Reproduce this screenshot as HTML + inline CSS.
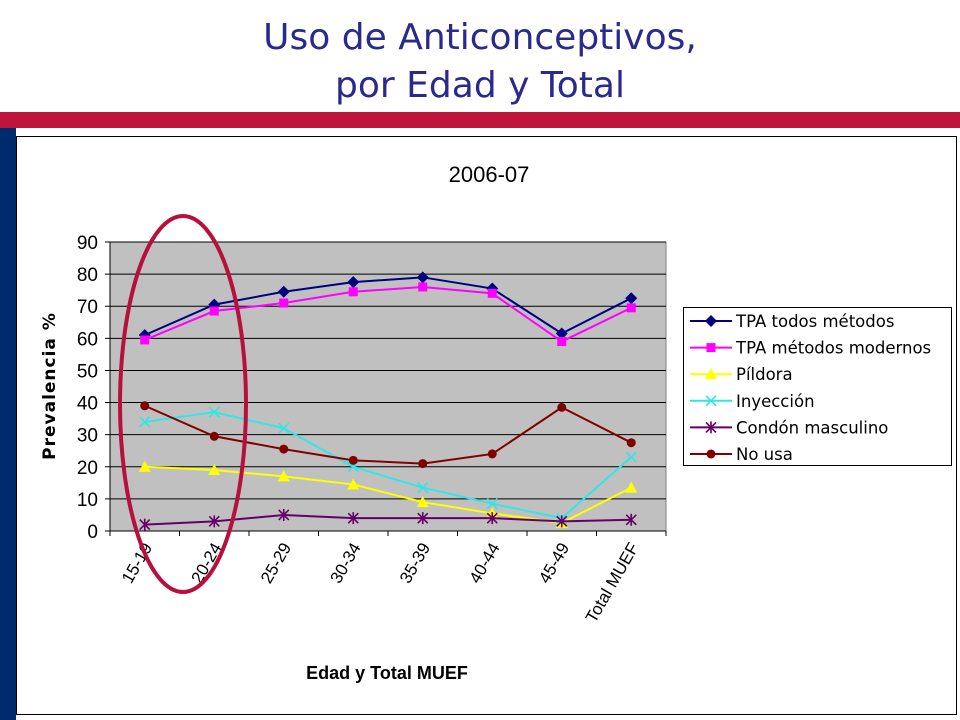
<!DOCTYPE html>
<html><head><meta charset="utf-8"><style>
body{margin:0;width:960px;height:720px;background:#fff;overflow:hidden;position:relative;font-family:"Liberation Sans",sans-serif}
.title{position:absolute;left:0;width:960px;text-align:center;color:#2a2a8c;font-family:"DejaVu Sans","Liberation Sans",sans-serif;font-size:36px;line-height:48px}
</style></head><body>
<div class="title" style="top:14px">Uso de Anticonceptivos,<br>por Edad y Total</div>
<div style="position:absolute;left:0;top:112px;width:960px;height:16px;background:#c0143c"></div>
<div style="position:absolute;left:0;top:128px;width:16px;height:592px;background:#002a6c"></div>
<svg id="chart" width="960" height="720" style="position:absolute;left:0;top:0">
<rect x="16.5" y="136.5" width="940" height="578" fill="#fff" stroke="#000" stroke-width="1"/>
<text x="489" y="182" font-size="22" text-anchor="middle" font-family="Liberation Sans">2006-07</text>
<g id="plot"></g>
<text transform="translate(55,386) rotate(-90)" font-size="17" font-weight="bold" text-anchor="middle" letter-spacing="1" font-family="DejaVu Sans">Prevalencia %</text>
<text x="387" y="679" font-size="18" font-weight="bold" text-anchor="middle">Edad y Total MUEF</text>
<ellipse cx="183" cy="404" rx="63" ry="188" fill="none" stroke="#b8103c" stroke-width="4"/>
<g id="legend"></g>
</svg>
<script>
const categories=["15-19","20-24","25-29","30-34","35-39","40-44","45-49","Total MUEF"];
const yTicks=[0,10,20,30,40,50,60,70,80,90];
const seriesNames=["TPA todos métodos","TPA métodos modernos","Píldora","Inyección","Condón masculino","No usa"];
const tpaTodos=[61,70.5,74.5,77.5,79,75.5,61.5,72.5];
const tpaModernos=[59.5,68.5,71,74.5,76,74,59,69.5];
const pildora=[20,19,17,14.5,9,5.5,2.5,13.5];
const inyeccion=[34,37,32,20,13.5,8.5,4,23];
const condon=[2,3,5,4,4,4,3,3.5];
const noUsa=[39,29.5,25.5,22,21,24,38.5,27.5];
const NS="http://www.w3.org/2000/svg";
const L=110,R=666,T=242,B=531;
const step=(R-L)/categories.length;
const x=i=>L+step*(i+0.5);
const y=v=>B-(B-T)*v/90;
function mk(tag,at,parent){const e=document.createElementNS(NS,tag);for(const k in at)e.setAttribute(k,at[k]);parent.appendChild(e);return e;}
const g=document.getElementById('plot');
const bg=mk('rect',{x:L,y:T,width:R-L,height:B-T,fill:'#c0c0c0',stroke:'#808080'},g);


yTicks.forEach(v=>{
  if(v>0){const gl=mk('line',{x1:L,x2:R,y1:y(v),y2:y(v),stroke:'#000','stroke-width':1},g);
  
  }
  mk('line',{x1:L-5,x2:L,y1:y(v),y2:y(v),stroke:'#000'},g);
  const t=mk('text',{x:L-12,y:y(v)+7,'font-size':19,'text-anchor':'end'},g);t.textContent=v;
  
  
});
mk('line',{x1:L,x2:L,y1:T,y2:B,stroke:'#000'},g);
mk('line',{x1:L,x2:R,y1:B,y2:B,stroke:'#000'},g);
categories.forEach((c,i)=>{
  mk('line',{x1:L+step*i,x2:L+step*i,y1:B,y2:B+5,stroke:'#000'},g);
  const t=mk('text',{transform:`translate(${x(i)+8},${B+16}) rotate(-60)`,'font-size':17,'text-anchor':'end'},g);t.textContent=c;
  
  
});
mk('line',{x1:R,x2:R,y1:B,y2:B+5,stroke:'#000'},g);
const colors=['#000080','#ff00ff','#ffff00','#33e6e6','#660066','#800000'];
const data=[tpaTodos,tpaModernos,pildora,inyeccion,condon,noUsa];
const markers=['diamond','square','triangle','x','star','circle'];
function marker(p,type,cx,cy,col){
  let e;
  if(type=='diamond')e=mk('polygon',{points:`${cx},${cy-6} ${cx+6},${cy} ${cx},${cy+6} ${cx-6},${cy}`,fill:col},p);
  else if(type=='square')e=mk('rect',{x:cx-4.5,y:cy-4.5,width:9,height:9,fill:col},p);
  else if(type=='triangle')e=mk('polygon',{points:`${cx},${cy-6} ${cx+6},${cy+5} ${cx-6},${cy+5}`,fill:col},p);
  else if(type=='circle')e=mk('circle',{cx,cy,r:4.5,fill:col},p);
  else {e=mk('path',{d:`M${cx-5},${cy-5}L${cx+5},${cy+5}M${cx-5},${cy+5}L${cx+5},${cy-5}`+(type=='star'?`M${cx},${cy-6}V${cy+6}`:''),stroke:col,'stroke-width':1.6,fill:'none'},p);}
  return e;
}
data.forEach((vals,s)=>{
  const sg=mk('g',{},g);
  
  
  const ln=mk('polyline',{points:vals.map((v,i)=>x(i)+','+y(v)).join(' '),fill:'none',stroke:colors[s],'stroke-width':2},sg);
  
  
  vals.forEach((v,i)=>{const m=marker(sg,markers[s],x(i),y(v),colors[s]);
    
    });
});
const lg=document.getElementById('legend');
const box=mk('rect',{x:683.5,y:307.5,width:268,height:158,fill:'#fff',stroke:'#000'},lg);


seriesNames.forEach((n,s)=>{
  const yy=321+s*26.6;
  const eg=mk('g',{},lg);
  
  
  mk('line',{x1:690,x2:732,y1:yy,y2:yy,stroke:colors[s],'stroke-width':2},eg);
  marker(eg,markers[s],711,yy,colors[s]);
  const t=mk('text',{x:736,y:yy+6,'font-size':16.5,'font-family':'DejaVu Sans'},eg);t.textContent=n;
});
</script>
</body></html>
